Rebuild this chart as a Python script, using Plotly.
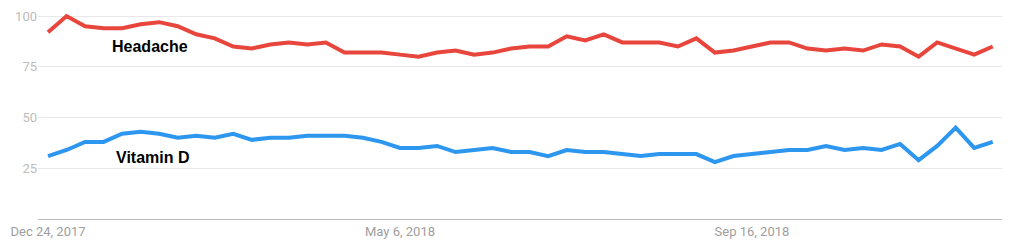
import plotly.graph_objects as go
import pandas as pd

weeks = pd.date_range("2017-12-24", periods=52, freq="7D")

headache = [92, 100, 95, 94, 94, 96, 97, 95, 91, 89,
            85, 84, 86, 87, 86, 87, 82, 82, 82, 81,
            80, 82, 83, 81, 82, 84, 85, 85, 90, 88,
            91, 87, 87, 87, 85, 89, 82, 83, 85, 87,
            87, 84, 83, 84, 83, 86, 85, 80, 87, 84,
            81, 85]

vitamin_d = [31, 34, 38, 38, 42, 43, 42, 40, 41, 40,
             42, 39, 40, 40, 41, 41, 41, 40, 38, 35,
             35, 36, 33, 34, 35, 33, 33, 31, 34, 33,
             33, 32, 31, 32, 32, 32, 28, 31, 32, 33,
             34, 34, 36, 34, 35, 34, 37, 29, 36, 45,
             35, 38]

x_tick_dates = ["2017-12-24", "2018-05-06", "2018-09-16"]
x_tick_labels = ["Dec 24, 2017", "May 6, 2018", "Sep 16, 2018"]
y_tick_vals = [25, 50, 75, 100]

RED = "#e8453c"
BLUE = "#2d96ef"

fig = go.Figure()
fig.add_trace(go.Scatter(x=weeks, y=headache, mode="lines", name="Headache",
                         line=dict(color=RED, width=4)))
fig.add_trace(go.Scatter(x=weeks, y=vitamin_d, mode="lines", name="Vitamin D",
                         line=dict(color=BLUE, width=4)))

fig.add_annotation(x=pd.Timestamp("2018-01-31 12:00"), y=85, text="<b>Headache</b>",
                   showarrow=False, font=dict(family="Liberation Sans, Arial", size=16, color="#000"))
fig.add_annotation(x=pd.Timestamp("2018-02-01 12:00"), y=30.5, text="<b>Vitamin D</b>",
                   showarrow=False, font=dict(family="Liberation Sans, Arial", size=16, color="#000"))

fig.update_layout(
    width=1022, height=244,
    margin=dict(l=38, r=20, t=12, b=25),
    paper_bgcolor="white", plot_bgcolor="white",
    showlegend=False,
    font=dict(family="Roboto, Arial", size=13, color="#9e9e9e"),
    xaxis=dict(
        range=[pd.Timestamp("2017-12-20 05:00"), pd.Timestamp("2018-12-19 12:00")],
        tickvals=pd.to_datetime(x_tick_dates), ticktext=x_tick_labels,
        showgrid=False, zeroline=False, showline=True, linecolor="#bdbdbd", linewidth=1,
        ticks="", tickfont=dict(size=13, color="#9e9e9e"), automargin=False,
    ),
    yaxis=dict(
        range=[0, 102], tickvals=y_tick_vals,
        showgrid=True, gridcolor="#e8e8e8", gridwidth=1, zeroline=False,
        ticks="", tickfont=dict(size=13, color="#bdbdbd"), automargin=False,
    ),
)

fig.write_html("out.html")
